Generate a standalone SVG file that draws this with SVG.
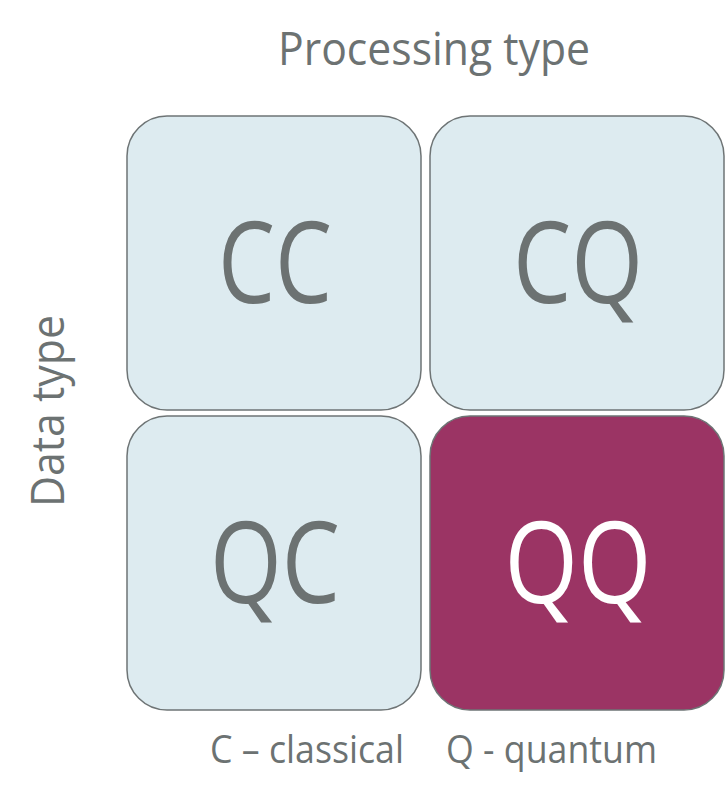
<svg xmlns="http://www.w3.org/2000/svg" width="726" height="799" viewBox="0 0 726 799">
<style>
.box{fill:#DDEBF0;stroke:#6E7475;stroke-width:1.5}
.hi{fill:#9B3464;stroke:#6E7475;stroke-width:1.5}
text{font-family:"Open Sans","Noto Sans","Liberation Sans",sans-serif;fill:#6C7272}
.big{font-size:113px;text-anchor:middle}
.lbl{font-size:38px}
.ttl{font-size:45px}
</style>
<rect width="726" height="799" fill="#ffffff"/>
<g id="title"><text class="ttl" x="434" y="65" text-anchor="middle" textLength="312" lengthAdjust="spacingAndGlyphs">Processing type</text></g>
<g id="ylabel"><text class="ttl" transform="translate(64 411) rotate(-90)" text-anchor="middle" textLength="192" lengthAdjust="spacingAndGlyphs">Data type</text></g>
<g id="CC"><rect class="box" x="127" y="116" width="294" height="294" rx="40"/><text class="big" x="275" y="303" textLength="114" lengthAdjust="spacingAndGlyphs">CC</text></g>
<g id="CQ"><rect class="box" x="430" y="116" width="294" height="294" rx="40"/><text class="big" x="578" y="303" textLength="130" lengthAdjust="spacingAndGlyphs">CQ</text></g>
<g id="QC"><rect class="box" x="127" y="416" width="294" height="294" rx="40"/><text class="big" x="275" y="603" textLength="130" lengthAdjust="spacingAndGlyphs">QC</text></g>
<g id="QQ"><rect class="hi" x="430" y="416" width="294" height="294" rx="40"/><text class="big" x="578" y="603" style="fill:#ffffff" textLength="147" lengthAdjust="spacingAndGlyphs">QQ</text></g>
<g id="legend"><text class="lbl" x="210" y="763" textLength="194" lengthAdjust="spacingAndGlyphs">C – classical</text><text class="lbl" x="446" y="763" textLength="211" lengthAdjust="spacingAndGlyphs">Q - quantum</text></g>
<g id="connectors"/>
</svg>
